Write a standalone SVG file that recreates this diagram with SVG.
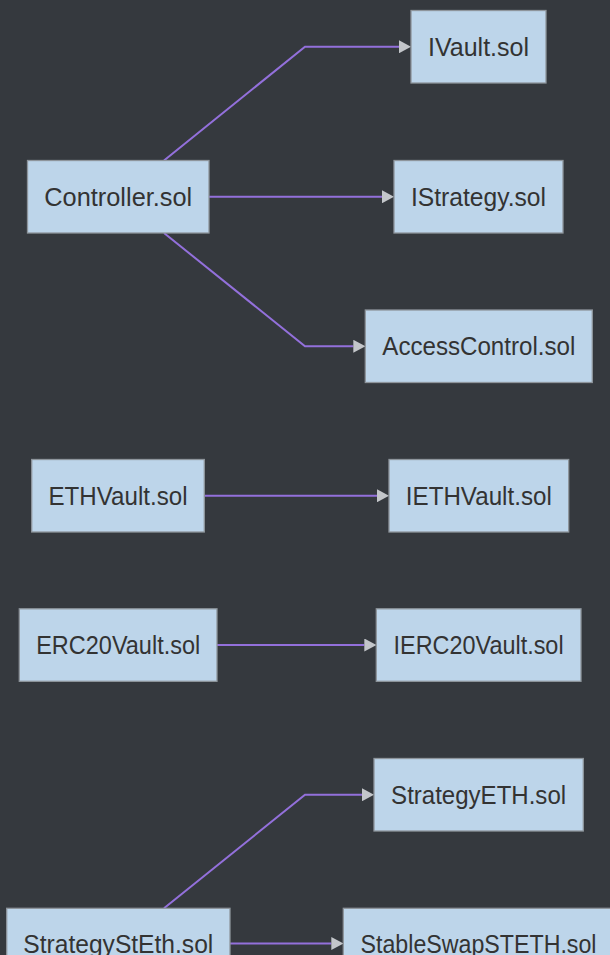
<svg xmlns="http://www.w3.org/2000/svg" width="610" height="955" viewBox="0 0 610 955">
  <defs>
    <style>
      .bg { fill: #35393e; }
      .node rect { fill: #bdd5ea; stroke: #8e959c; stroke-width: 1.3; }
      .node text { font-family: "Liberation Sans", Arial, sans-serif; font-size: 25px; fill: #333333; text-anchor: middle; }
      .edge { fill: none; stroke: #9370db; stroke-width: 2; }
    </style>
    <marker id="arrow" markerUnits="userSpaceOnUse" markerWidth="12" markerHeight="13" refX="0" refY="6.5" orient="auto">
      <path d="M0,0 L12,6.5 L0,13 z" fill="#c3c6ca"/>
    </marker>
  </defs>
  <rect class="bg" x="0" y="0" width="610" height="955"/>

  <g id="connectors">
    <path class="edge" d="M164,160.5 L305,46.75 L399,46.75" marker-end="url(#arrow)"/>
    <path class="edge" d="M209,196.75 L382,196.75" marker-end="url(#arrow)"/>
    <path class="edge" d="M164,233 L305,346.25 L353.3,346.25" marker-end="url(#arrow)"/>
    <path class="edge" d="M204.3,495.75 L377,495.75" marker-end="url(#arrow)"/>
    <path class="edge" d="M217,645 L364.3,645" marker-end="url(#arrow)"/>
    <path class="edge" d="M164,908.3 L305,794.75 L362,794.75" marker-end="url(#arrow)"/>
    <path class="edge" d="M230,943.5 L331.3,943.5" marker-end="url(#arrow)"/>
  </g>

  <g id="node-controller" class="node">
    <rect x="27.5" y="160.5" width="181.5" height="72.5"/>
    <text x="118.25" y="205.5" textLength="148" lengthAdjust="spacingAndGlyphs">Controller.sol</text>
  </g>
  <g id="node-ivault" class="node">
    <rect x="411" y="10.5" width="135" height="72.5"/>
    <text x="478.5" y="55.5" textLength="101" lengthAdjust="spacingAndGlyphs">IVault.sol</text>
  </g>
  <g id="node-istrategy" class="node">
    <rect x="394" y="160.5" width="169" height="72.5"/>
    <text x="478.5" y="205.5" textLength="135" lengthAdjust="spacingAndGlyphs">IStrategy.sol</text>
  </g>
  <g id="node-accesscontrol" class="node">
    <rect x="365.3" y="310" width="227" height="72.5"/>
    <text x="478.8" y="355" textLength="193" lengthAdjust="spacingAndGlyphs">AccessControl.sol</text>
  </g>
  <g id="node-ethvault" class="node">
    <rect x="31.7" y="459.5" width="172.6" height="72.5"/>
    <text x="118" y="504.5" textLength="139" lengthAdjust="spacingAndGlyphs">ETHVault.sol</text>
  </g>
  <g id="node-iethvault" class="node">
    <rect x="389" y="459.5" width="179.7" height="72.5"/>
    <text x="478.8" y="504.5" textLength="146" lengthAdjust="spacingAndGlyphs">IETHVault.sol</text>
  </g>
  <g id="node-erc20vault" class="node">
    <rect x="19.3" y="608.8" width="197.7" height="72.5"/>
    <text x="118.2" y="653.8" textLength="164" lengthAdjust="spacingAndGlyphs">ERC20Vault.sol</text>
  </g>
  <g id="node-ierc20vault" class="node">
    <rect x="376.3" y="608.8" width="204.7" height="72.5"/>
    <text x="478.6" y="653.8" textLength="170" lengthAdjust="spacingAndGlyphs">IERC20Vault.sol</text>
  </g>
  <g id="node-strategyeth" class="node">
    <rect x="374" y="758.5" width="209.3" height="72.5"/>
    <text x="478.6" y="803.5" textLength="175" lengthAdjust="spacingAndGlyphs">StrategyETH.sol</text>
  </g>
  <g id="node-strategysteth" class="node">
    <rect x="6.7" y="908.3" width="223.3" height="72.5"/>
    <text x="118.3" y="953.3" textLength="190" lengthAdjust="spacingAndGlyphs">StrategyStEth.sol</text>
  </g>
  <g id="node-stableswapsteth" class="node">
    <rect x="343.3" y="908.3" width="270.4" height="72.5"/>
    <text x="478.5" y="953.3" textLength="236" lengthAdjust="spacingAndGlyphs">StableSwapSTETH.sol</text>
  </g>
</svg>
